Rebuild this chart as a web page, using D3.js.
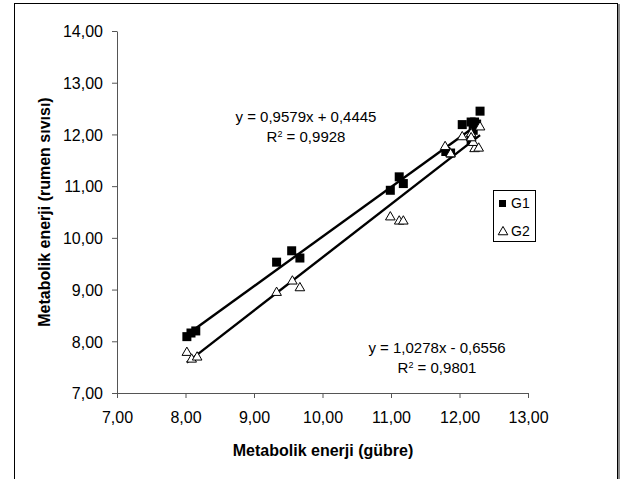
<!DOCTYPE html>
<html>
<head>
<meta charset="utf-8">
<script src="https://cdn.jsdelivr.net/npm/d3@7"></script>
<style>
    body { margin: 0; background: #fff; }
    text { font-family: "Liberation Sans", Arial, sans-serif; }
</style>
</head>
<body>
<svg id="chart" width="625" height="479"></svg>
<script>
// G1 = filled squares, G2 = open triangles
const g1X = [8.02, 8.08, 8.15, 9.33, 9.55, 9.67, 10.99, 11.12, 11.18, 11.80, 11.87, 12.04, 12.17, 12.22, 12.20, 12.17, 12.30, 12.25];
const g1Y = [8.09, 8.16, 8.20, 9.53, 9.75, 9.61, 10.92, 11.18, 11.05, 11.67, 11.64, 12.19, 12.24, 12.24, 12.08, 11.90, 12.45, 12.20];
const g2X = [8.02, 8.09, 8.17, 9.33, 9.56, 9.67, 10.99, 11.12, 11.18, 11.79, 11.87, 12.04, 12.17, 12.22, 12.20, 12.17, 12.30, 12.28];
const g2Y = [7.80, 7.67, 7.71, 8.96, 9.18, 9.05, 10.42, 10.34, 10.34, 11.78, 11.64, 11.97, 12.03, 11.74, 11.86, 11.95, 12.16, 11.75];

const trend1 = {slope: 0.9579, intercept: 0.4445, label: 'y = 0,9579x + 0,4445', r2: '0,9928'};
const trend2 = {slope: 1.0278, intercept: -0.6556, label: 'y = 1,0278x - 0,6556', r2: '0,9801'};

const xTicks = [7, 8, 9, 10, 11, 12, 13];
const yTicks = [7, 8, 9, 10, 11, 12, 13, 14];
const seriesNames = ['G1', 'G2'];

const svg = d3.select('#chart');

// outer frame
svg.append('rect')
    .attr('x', 14.5).attr('y', 3.5)
    .attr('width', 603).attr('height', 490)
    .attr('fill', 'none').attr('stroke', '#000');
svg.append('line')
    .attr('x1', 619).attr('x2', 619).attr('y1', 4).attr('y2', 479)
    .attr('stroke', '#666').attr('stroke-width', 1.5);

const x = d3.scaleLinear().domain([7, 13]).range([117, 528]);
const y = d3.scaleLinear().domain([7, 14]).range([393, 31]);
const fmt = v => d3.format('.2f')(v).replace('.', ',');

const xAxis = svg.append('g')
    .attr('transform', `translate(0,${y(7)})`)
    .call(d3.axisBottom(x).tickValues(xTicks).tickFormat(fmt).tickSize(5).tickSizeOuter(0).tickPadding(14));
const yAxis = svg.append('g')
    .attr('transform', `translate(${x(7)},0)`)
    .call(d3.axisLeft(y).tickValues(yTicks).tickFormat(fmt).tickSize(5).tickSizeOuter(0).tickPadding(9));

[xAxis, yAxis].forEach(a => {
    a.select('.domain').attr('stroke', '#555');
    a.selectAll('.tick line').attr('stroke', '#555');
    a.selectAll('.tick text')
        .attr('fill', '#000')
        .style('font-size', '16px')
        .style('font-family', '"Liberation Sans", Arial, sans-serif');
});
yAxis.selectAll('.tick text').attr('dy', '0.36em');

// axis titles
svg.append('text')
    .attr('x', 323).attr('y', 456)
    .attr('text-anchor', 'middle')
    .style('font-size', '16px').style('font-weight', 'bold')
    .text('Metabolik enerji (gübre)');
svg.append('text')
    .attr('transform', 'translate(50,212) rotate(-90)')
    .attr('text-anchor', 'middle')
    .style('font-size', '16px').style('font-weight', 'bold')
    .text('Metabolik enerji (rumen sıvısı)');

// trend lines
function drawTrend(t, xs) {
    const x0 = d3.min(xs), x1 = d3.max(xs);
    svg.append('line')
        .attr('x1', x(x0)).attr('y1', y(t.slope * x0 + t.intercept))
        .attr('x2', x(x1)).attr('y2', y(t.slope * x1 + t.intercept))
        .attr('stroke', '#000').attr('stroke-width', 2.4);
}
drawTrend(trend1, g1X);
drawTrend(trend2, g2X);

const tri = d3.symbol().type(d3.symbolTriangle).size(40);

svg.append('g').selectAll('rect')
    .data(d3.zip(g1X, g1Y))
    .join('rect')
    .attr('x', d => x(d[0]) - 4.5).attr('y', d => y(d[1]) - 4.5)
    .attr('width', 9).attr('height', 9)
    .attr('fill', '#000');

svg.append('g').selectAll('path')
    .data(d3.zip(g2X, g2Y))
    .join('path')
    .attr('d', tri)
    .attr('transform', d => `translate(${x(d[0])},${y(d[1]) + 1})`)
    .attr('fill', '#fff').attr('stroke', '#000').attr('stroke-width', 1);

// equations
function drawEq(t, cx, cy) {
    svg.append('text')
        .attr('x', cx).attr('y', cy)
        .attr('text-anchor', 'middle')
        .style('font-size', '15px')
        .text(t.label);
    const r = svg.append('text')
        .attr('x', cx).attr('y', cy + 20)
        .attr('text-anchor', 'middle')
        .style('font-size', '15px');
    r.append('tspan').text('R');
    r.append('tspan').attr('dy', -5).style('font-size', '9px').text('2');
    r.append('tspan').attr('dy', 5).text(' = ' + t.r2);
}
drawEq(trend1, 306, 122);
drawEq(trend2, 437, 353);

// legend
const legend = svg.append('g');
legend.append('rect')
    .attr('x', 493.5).attr('y', 190.5)
    .attr('width', 42).attr('height', 51)
    .attr('fill', '#fff').attr('stroke', '#000');
legend.append('rect')
    .attr('x', 499).attr('y', 200).attr('width', 7).attr('height', 7)
    .attr('fill', '#000');
legend.append('path')
    .attr('d', tri)
    .attr('transform', 'translate(503,232)')
    .attr('fill', '#fff').attr('stroke', '#000');
legend.selectAll('text.lab')
    .data(seriesNames)
    .join('text')
    .attr('class', 'lab')
    .attr('x', 511)
    .attr('y', (d, i) => 208 + i * 28)
    .style('font-size', '14px')
    .text(d => d);
</script>
</body>
</html>
